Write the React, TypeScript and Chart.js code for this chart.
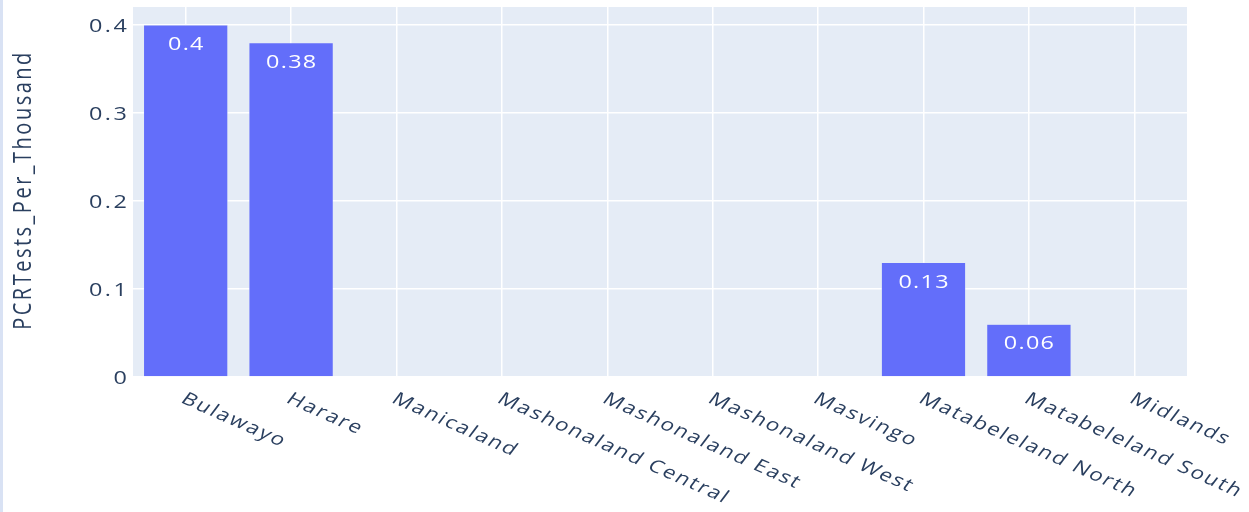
import React, { useEffect, useRef } from "react";
import { Chart, registerables } from "chart.js";

Chart.register(...registerables);

const categories = [
  "Bulawayo",
  "Harare",
  "Manicaland",
  "Mashonaland Central",
  "Mashonaland East",
  "Mashonaland West",
  "Masvingo",
  "Matabeleland North",
  "Matabeleland South",
  "Midlands",
];
const pcrTestsPerThousand = [0.4, 0.38, 0, 0, 0, 0, 0, 0.13, 0.06, 0];
const yTickValues = [0, 0.1, 0.2, 0.3, 0.4];
const yTickLabels = ["0", "0.1", "0.2", "0.3", "0.4"];
const yAxisTitle = "PCRTests_Per_Thousand";
const yMax = 0.4205;

const W = 1249;
const H = 512;
const SX = 1.3;
const FONT = '"Open Sans", "DejaVu Sans", sans-serif';
const TEXT = "#2a3f5f";

function drawText(
  ctx: CanvasRenderingContext2D,
  text: string,
  x: number,
  y: number,
  o: { size: number; color: string; align: CanvasTextAlign; baseline: CanvasTextBaseline; angle?: number; sx?: number; spacing?: number }
) {
  ctx.save();
  ctx.translate(x, y);
  ctx.scale(o.sx ?? SX, 1);
  ctx.rotate(o.angle ?? 0);
  ctx.font = `${o.size}px ${FONT}`;
  (ctx as any).letterSpacing = `${o.spacing ?? 0}px`;
  ctx.fillStyle = o.color;
  ctx.textAlign = o.align;
  ctx.textBaseline = o.baseline;
  ctx.fillText(text, 0, 0);
  ctx.restore();
}

const bgPlugin = {
  id: "bgPlugin",
  beforeDraw(chart: any) {
    const { ctx, chartArea } = chart;
    ctx.save();
    ctx.fillStyle = "#ffffff";
    ctx.fillRect(0, 0, W, H);
    ctx.fillStyle = "#d9e2f4";
    ctx.fillRect(0, 0, 3, H);
    ctx.fillStyle = "#E5ECF6";
    ctx.fillRect(chartArea.left, chartArea.top, chartArea.right - chartArea.left, chartArea.bottom - chartArea.top);
    ctx.restore();
  },
};

const textPlugin = {
  id: "textPlugin",
  afterDraw(chart: any) {
    const { ctx, scales, chartArea } = chart;
    const xs = scales.x;
    const ys = scales.y;
    yTickValues.forEach((v, i) => {
      const y = ys.getPixelForValue(v);
      drawText(ctx, yTickLabels[i], chartArea.left - 6 + 2 * SX, y + 7, {
        size: 18,
        color: TEXT,
        align: "right",
        baseline: "alphabetic",
        spacing: 2,
      });
    });
    drawText(ctx, yAxisTitle, 24, (chartArea.top + chartArea.bottom) / 2 - 2, {
      size: 20,
      color: TEXT,
      align: "center",
      baseline: "middle",
      angle: -Math.PI / 2,
      spacing: 2.5,
    });
    categories.forEach((c, i) => {
      const x = xs.getPixelForValue(i);
      drawText(ctx, c, x - 6, chartArea.bottom + 25, {
        size: 17.5,
        color: TEXT,
        align: "left",
        baseline: "alphabetic",
        angle: Math.PI / 6,
        spacing: 1.5,
      });
    });
    const meta = chart.getDatasetMeta(0);
    meta.data.forEach((el: any, i: number) => {
      const v = pcrTestsPerThousand[i];
      if (!v) return;
      drawText(ctx, String(v), el.x + 0.5 * SX, el.y + 25, {
        size: 18,
        color: "#ffffff",
        align: "center",
        baseline: "alphabetic",
        spacing: 1,
      });
    });
  },
};

export default function App() {
  const ref = useRef<HTMLCanvasElement>(null);
  useEffect(() => {
    if (!ref.current) return;
    const chart = new Chart(ref.current, {
      type: "bar",
      data: {
        labels: categories,
        datasets: [
          {
            data: pcrTestsPerThousand,
            backgroundColor: "#636EFA",
            borderColor: "#E5ECF6",
            borderWidth: 0.5,
            categoryPercentage: 0.8,
            barPercentage: 1,
          },
        ],
      },
      options: {
        animation: false,
        responsive: false,
        devicePixelRatio: 1,
        layout: { padding: { top: 7, right: W - 1187, left: 0, bottom: 0 } },
        plugins: { legend: { display: false }, tooltip: { enabled: false } },
        scales: {
          x: {
            type: "category",
            offset: true,
            ticks: { display: false },
            grid: { offset: false, color: "#ffffff", lineWidth: 1.5, drawTicks: false },
            border: { display: false },
            afterFit: (s: any) => {
              s.height = H - 377;
            },
          },
          y: {
            min: 0,
            max: yMax,
            ticks: { display: false },
            grid: { color: "#ffffff", lineWidth: 1.5, drawTicks: false },
            border: { display: false },
            afterBuildTicks: (s: any) => {
              s.ticks = yTickValues.map((v) => ({ value: v }));
            },
            afterFit: (s: any) => {
              s.width = 133;
            },
          },
        },
      },
      plugins: [bgPlugin, textPlugin],
    });
    return () => chart.destroy();
  }, []);
  return (
    <div style={{ position: "fixed", left: 0, top: 0, width: W, height: H }}>
      <canvas ref={ref} width={W} height={H} style={{ display: "block", width: W, height: H }} />
    </div>
  );
}
